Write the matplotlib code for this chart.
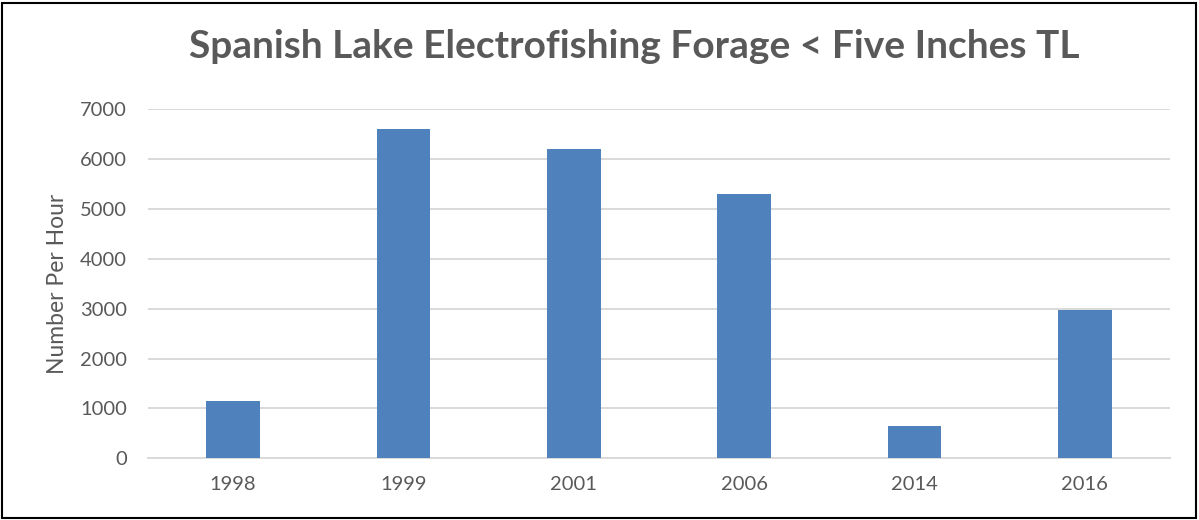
import matplotlib
matplotlib.use("Agg")
import matplotlib.pyplot as plt
from matplotlib.patches import Rectangle

years = ["1998", "1999", "2001", "2006", "2014", "2016"]
per_hour = [1150, 6600, 6200, 5300, 650, 2975]
y_ticks = [0, 1000, 2000, 3000, 4000, 5000, 6000, 7000]

title = "Spanish Lake Electrofishing Forage < Five Inches TL"
y_label = "Number Per Hour"

text_color = "#595959"
bar_color = "#4f81bd"
grid_color = "#d9d9d9"

plt.rcParams["font.family"] = ["Lato", "DejaVu Sans"]

W, H = 1199, 520
fig = plt.figure(figsize=(W / 100, H / 100), dpi=100)
ax = fig.add_axes([148 / W, 61.7 / H, (1170 - 148) / W, (458.3 - 109) / H])

x = list(range(len(years)))
ax.bar(x, per_hour, width=0.317, color=bar_color, zorder=3)

ax.set_xlim(-0.5, len(years) - 0.5)
ax.set_ylim(0, 7000)
ax.set_yticks(y_ticks)
ax.set_yticklabels([str(v) for v in y_ticks])
ax.set_xticks(x)
ax.set_xticklabels(years)

ax.yaxis.grid(True, color=grid_color, linewidth=1.4, zorder=0)
ax.set_axisbelow(True)
for side in ("top", "right", "left"):
    ax.spines[side].set_visible(False)
ax.spines["bottom"].set_color(grid_color)
ax.spines["bottom"].set_linewidth(1.4)
ax.tick_params(axis="both", length=0, labelsize=14.5, colors=text_color)
ax.tick_params(axis="y", pad=15)
ax.tick_params(axis="x", pad=13)

ax.set_ylabel(y_label, fontsize=16.5, color=text_color, labelpad=9)

fig.text(634 / W, 1 - 46 / H, title, ha="center", va="center",
         fontsize=28, fontweight="bold", color=text_color)

fig.patches.append(Rectangle((2 / W, 2 / H), (W - 5) / W, (H - 5) / H,
                             transform=fig.transFigure, fill=False,
                             edgecolor="black", linewidth=1.5))

fig.savefig("out.png", dpi=100)
